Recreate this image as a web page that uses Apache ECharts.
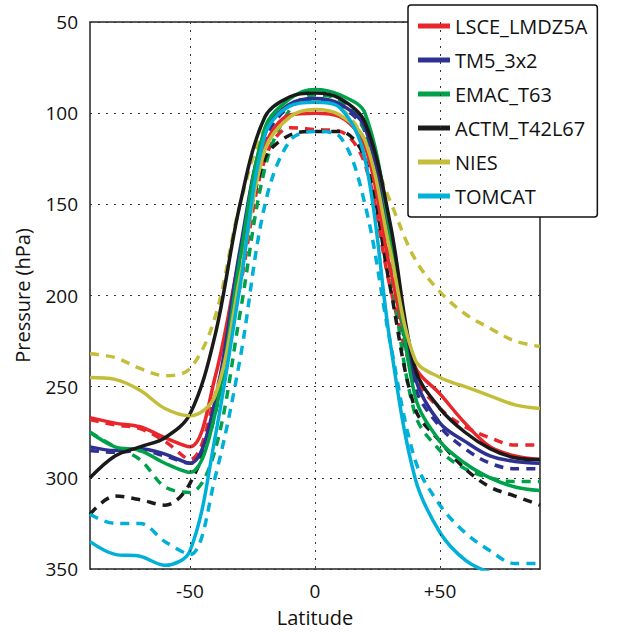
<!DOCTYPE html>
<html><head><meta charset="utf-8">
<script src="https://cdn.jsdelivr.net/npm/echarts@6/dist/echarts.min.js"></script>
<style>html,body{margin:0;background:#fff}#c{width:625px;height:632px}</style>
</head><body><div id="c"></div>
<script>
var lats = [-90,-80,-70,-60,-50,-40,-30,-20,-10,0,10,20,30,40,50,60,70,80,90];
var names = ['LSCE_LMDZ5A','TM5_3x2','EMAC_T63','ACTM_T42L67','NIES','TOMCAT'];
var colors = ['#e8262b','#2e3192','#00a14b','#1a1a1a','#c4bd3a','#00b0d8'];
var xTicks = [-50, 0, 50];

var lsceSolid  = [267,270,272,278,283,245,178,118,101,100,102,118,185,239,254,270,283,288,290];
var lsceDash   = [268,271,273,280,290,255,195,125,108,109,110,128,195,245,262,272,278,282,282];
var tm5Solid   = [283,285,284,287,292,258,175,110,95,92,95,108,170,245,270,280,288,291,292];
var tm5Dash    = [285,286,285,288,292,262,185,115,96,93,96,110,175,250,272,284,292,295,295];
var emacSolid  = [275,283,285,292,297,265,180,108,92,87,90,100,165,255,280,292,300,305,307];
var emacDash   = [275,283,290,305,308,285,210,130,98,90,93,110,185,265,285,295,300,302,302];
var actmSolid  = [300,288,283,278,265,222,150,102,91,89,92,105,160,240,262,275,284,289,290];
var actmDash   = [320,310,312,315,303,265,185,125,112,110,110,125,195,262,280,295,305,310,315];
var niesSolid  = [245,246,252,262,266,255,190,120,102,98,101,115,175,235,245,250,255,260,262];
var niesDash   = [232,234,240,244,240,212,150,108,95,93,97,115,148,180,198,210,218,225,228];
var tomSolid   = [335,342,343,348,340,278,195,112,96,94,97,125,225,300,330,345,352,355,355];
var tomDash    = [320,325,325,335,342,300,235,150,115,110,113,150,225,290,315,330,340,347,347];

var solids = [lsceSolid, tm5Solid, emacSolid, actmSolid, niesSolid, tomSolid];
var dashes = [lsceDash, tm5Dash, emacDash, actmDash, niesDash, tomDash];

function pairs(vals) {
  return lats.map(function(l, i) { return [l, vals[i]]; });
}

var series = [];
names.forEach(function(n, i) {
  series.push({
    name: n + ' dash', type: 'line', smooth: 0.35, symbol: 'none', data: pairs(dashes[i]),
    lineStyle: { color: colors[i], width: 3.5, type: [9, 7] }, z: 2
  });
});
names.forEach(function(n, i) {
  series.push({
    name: n, type: 'line', smooth: 0.35, symbol: 'none', data: pairs(solids[i]),
    itemStyle: { color: colors[i] },
    lineStyle: { color: colors[i], width: 3.5 }, z: 3
  });
});
// vertical dotted grid lines at the labelled latitudes
series.push({
  type: 'line', data: [], silent: true,
  markLine: {
    symbol: 'none', silent: true, label: { show: false },
    lineStyle: { color: '#333', type: [2, 6], width: 1 },
    data: xTicks.map(function(v) { return { xAxis: v }; })
  }
});

var chart = echarts.init(document.getElementById('c'), null, { renderer: 'svg' });
var font = 'Open Sans, Liberation Sans, sans-serif';
chart.setOption({
  animation: false,
  grid: { left: 90, right: 85, top: 22, bottom: 59, show: true, borderColor: '#222', borderWidth: 1.5 },
  legend: {
    data: names, orient: 'vertical', left: 408, top: 5, width: 215,
    backgroundColor: '#fff', borderColor: '#111', borderWidth: 1.5, borderRadius: 3,
    padding: [11, 10, 11, 10], itemGap: 14, itemWidth: 32, itemHeight: 5,
    icon: 'rect',
    textStyle: { fontSize: 20, color: '#111', fontFamily: font }
  },
  xAxis: {
    type: 'value', min: -90, max: 90,
    name: 'Latitude', nameLocation: 'middle', nameGap: 38,
    nameTextStyle: { fontSize: 20, color: '#111', fontFamily: font },
    axisLabel: { fontSize: 19, color: '#111', fontFamily: font, margin: 12,
      customValues: xTicks,
      formatter: function(v) { return v > 0 ? '+' + v : '' + v; } },
    axisLine: { show: false },
    axisTick: { show: false },
    splitLine: { show: false }
  },
  yAxis: {
    type: 'value', inverse: true, min: 50, max: 350, interval: 50,
    name: 'Pressure (hPa)', nameLocation: 'middle', nameGap: 58,
    nameTextStyle: { fontSize: 20, color: '#111', fontFamily: font },
    axisLabel: { fontSize: 19, color: '#111', fontFamily: font, margin: 12 },
    axisLine: { show: false },
    axisTick: { show: false },
    splitLine: { lineStyle: { color: '#333', type: [2, 6] } }
  },
  series: series
});
</script></body></html>
